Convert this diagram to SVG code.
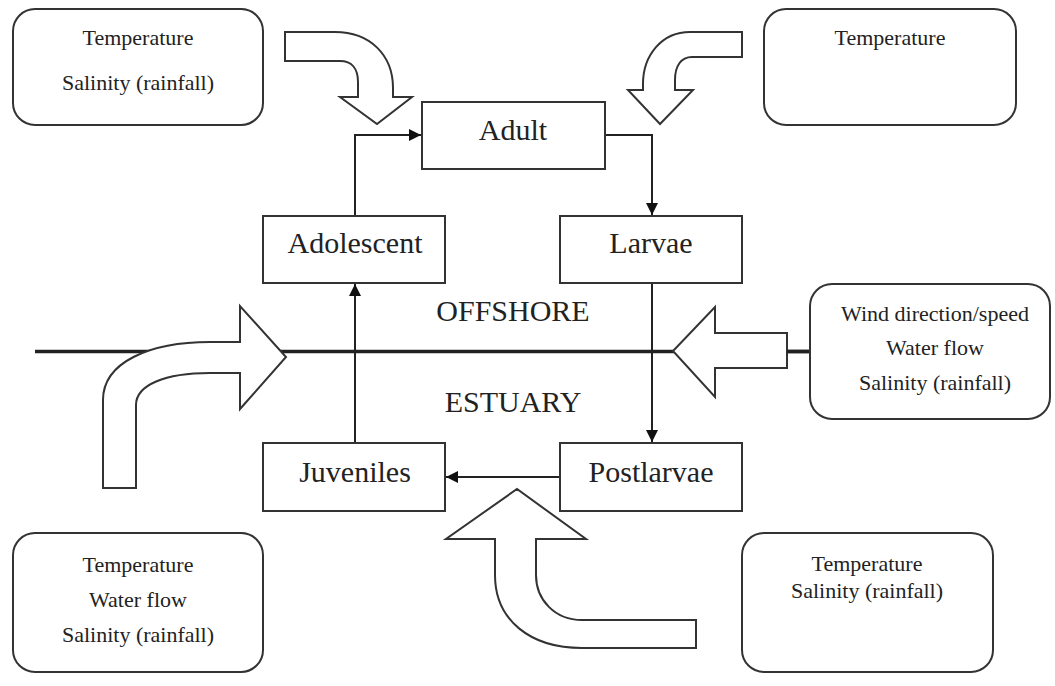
<svg xmlns="http://www.w3.org/2000/svg" width="1055" height="686" viewBox="0 0 1055 686">
<style>
.box{fill:#fff;stroke:#333;stroke-width:2}
.rbox{fill:#fff;stroke:#333;stroke-width:2}
.big{font-family:"Liberation Serif","Times New Roman",serif;font-size:30px;fill:#222;text-anchor:middle}
.small{font-family:"Liberation Serif","Times New Roman",serif;font-size:22px;fill:#222;text-anchor:middle}
.conn{fill:none;stroke:#222;stroke-width:2}
.block{fill:#fff;stroke:#333;stroke-width:2;stroke-linejoin:miter}
.divider{stroke:#222;stroke-width:3.5;fill:none}
</style>
<defs>
<marker id="ah" viewBox="0 0 10 10" refX="10" refY="5" markerWidth="6" markerHeight="6" orient="auto" markerUnits="strokeWidth">
<path d="M0,0 L10,5 L0,10 Z" fill="#111"/>
</marker>
</defs>
<rect width="1055" height="686" fill="#fff"/>

<g id="divider-line">
<line class="divider" x1="35" y1="351.5" x2="810" y2="351.5"/>
</g>

<g id="connectors">
<polyline class="conn" points="355,216 355,135 421,135" marker-end="url(#ah)"/>
<polyline class="conn" points="605,135 652,135 652,215" marker-end="url(#ah)"/>
<polyline class="conn" points="652,283 652,442" marker-end="url(#ah)"/>
<polyline class="conn" points="560,477 446,477" marker-end="url(#ah)"/>
<polyline class="conn" points="355,443 355,284" marker-end="url(#ah)"/>
</g>

<g id="arrow-topleft">
<path class="block" d="M285,32 L335,32 C370,32 393,55 393,88 L393,97 L412,97 L377,124 L340,97 L358,97 L358,82 C358,69 352,61 340,61 L285,61 Z"/>
</g>
<g id="arrow-topright">
<path class="block" d="M742,32 L690,32 C662,32 643,55 643,84 L643,90 L628,90 L660,124 L693,90 L675,90 L675,80 C675,66 681,57 692,57 L742,57 Z"/>
</g>
<g id="arrow-left">
<path class="block" d="M103,488 L103,400 C103,362 150,342 210,342 L240,342 L240,306 L286,357 L240,409 L240,373 L210,373 C165,373 136,385 136,405 L136,488 Z"/>
</g>
<g id="arrow-right">
<path class="block" d="M787,333 L715,333 L715,307 L673,351 L715,397 L715,368 L787,368 Z"/>
</g>
<g id="arrow-bottom">
<path class="block" d="M495,539 L495,575 C495,620 530,648 582,648 L696,648 L696,620 L582,620 C555,620 536,600 536,575 L536,539 L586,539 L517,489 L446,539 Z"/>
</g>

<g id="node-adult">
<rect class="box" x="422" y="102" width="183" height="67"/>
<text class="big" x="513" y="140">Adult</text>
</g>
<g id="node-adolescent">
<rect class="box" x="263" y="216" width="182" height="67"/>
<text class="big" x="355" y="253">Adolescent</text>
</g>
<g id="node-larvae">
<rect class="box" x="560" y="216" width="182" height="67"/>
<text class="big" x="651" y="253">Larvae</text>
</g>
<g id="node-juveniles">
<rect class="box" x="263" y="443" width="182" height="68"/>
<text class="big" x="355" y="482">Juveniles</text>
</g>
<g id="node-postlarvae">
<rect class="box" x="560" y="443" width="182" height="68"/>
<text class="big" x="651" y="482">Postlarvae</text>
</g>

<g id="label-offshore">
<text class="big" x="513" y="321">OFFSHORE</text>
</g>
<g id="label-estuary">
<text class="big" x="513" y="412">ESTUARY</text>
</g>

<g id="factors-topleft">
<rect class="rbox" x="13" y="9" width="250" height="116" rx="22" ry="22"/>
<text class="small" x="138" y="45">Temperature</text>
<text class="small" x="138" y="90">Salinity (rainfall)</text>
</g>
<g id="factors-topright">
<rect class="rbox" x="764" y="9" width="252" height="116" rx="22" ry="22"/>
<text class="small" x="890" y="45">Temperature</text>
</g>
<g id="factors-right">
<line class="divider" x1="787" y1="351.5" x2="811" y2="351.5"/>
<rect class="rbox" x="810" y="284" width="240" height="135" rx="22" ry="22"/>
<text class="small" x="935" y="321">Wind direction/speed</text>
<text class="small" x="935" y="355">Water flow</text>
<text class="small" x="935" y="390">Salinity (rainfall)</text>
</g>
<g id="factors-bottomleft">
<rect class="rbox" x="13" y="533" width="250" height="139" rx="22" ry="22"/>
<text class="small" x="138" y="572">Temperature</text>
<text class="small" x="138" y="607">Water flow</text>
<text class="small" x="138" y="642">Salinity (rainfall)</text>
</g>
<g id="factors-bottomright">
<rect class="rbox" x="742" y="533" width="251" height="139" rx="22" ry="22"/>
<text class="small" x="867" y="571">Temperature</text>
<text class="small" x="867" y="598">Salinity (rainfall)</text>
</g>
</svg>
